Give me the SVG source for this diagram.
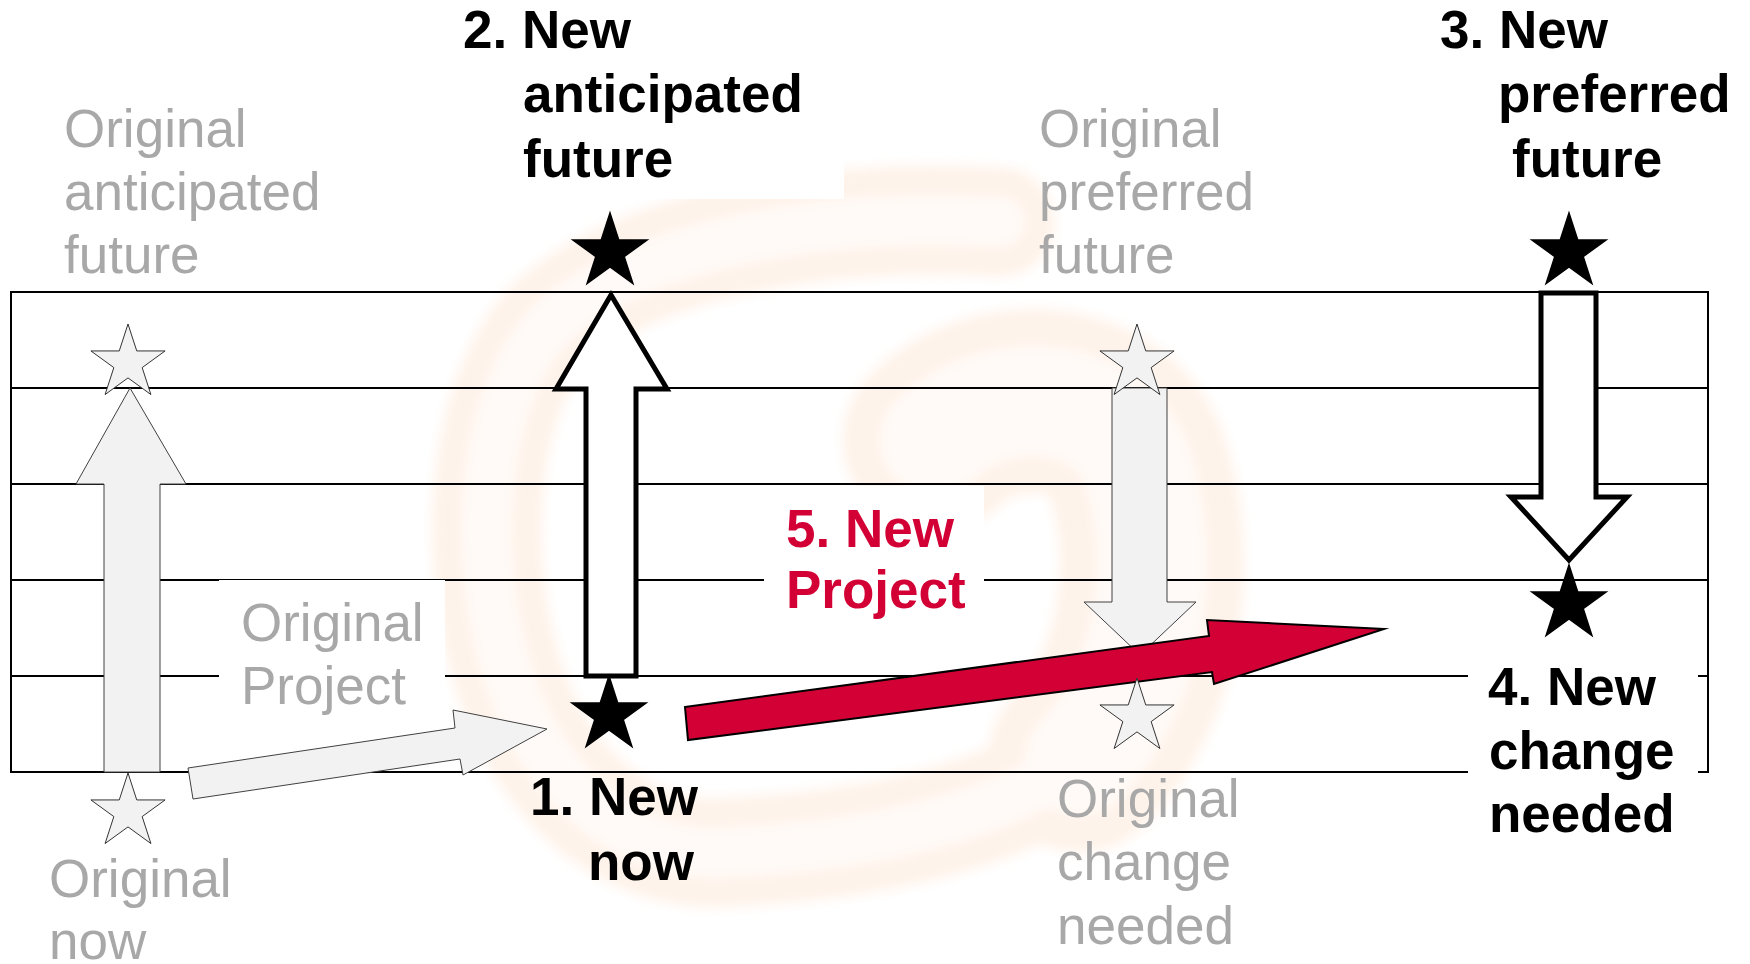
<svg xmlns="http://www.w3.org/2000/svg" xmlns:xlink="http://www.w3.org/1999/xlink" width="1750" height="964" viewBox="0 0 1750 964">
<style>
text { font-family: "Liberation Sans", Arial, sans-serif; font-size: 53px; }
.g { fill: #a8a8a8; }
.b { fill: #000000; font-weight: bold; }
.r { fill: #d20034; font-weight: bold; }
.grid line { stroke: #000000; stroke-width: 2; }
.box { fill: #ffffff; }
.ga { fill: #f2f2f2; stroke: #404040; stroke-width: 1; stroke-linejoin: miter; }
.ba { fill: #ffffff; stroke: #000000; stroke-width: 5; stroke-linejoin: miter; stroke-miterlimit: 10; }
.ra { fill: #d20034; stroke: #000000; stroke-width: 2; stroke-linejoin: miter; stroke-miterlimit: 10; }
.gs { fill: #f2f2f2; stroke: #333333; stroke-width: 1; }
.bs { fill: #000000; stroke: #000000; stroke-width: 1.5; }
.wm-o { stroke: #fef3ea; }
.wm-i { stroke: #fffaf7; }
</style>
<defs>
<path id="star" d="M0,-39 L8.76,-12.05 L37.09,-12.05 L14.17,4.6 L22.92,31.55 L0,14.9 L-22.92,31.55 L-14.17,4.6 L-37.09,-12.05 L-8.76,-12.05 Z"/>
<filter id="soft" x="-20%" y="-20%" width="140%" height="140%">
<feGaussianBlur stdDeviation="6"/>
</filter>
</defs>
<rect x="0" y="0" width="1750" height="964" fill="#ffffff"/>

<g id="watermark" fill="none" stroke-linecap="round" filter="url(#soft)">
<path class="wm-o" stroke-width="110" d="M1000,222 C820,212 640,245 555,320 C480,390 470,560 510,680 C550,800 640,860 730,852 C880,845 1000,815 1080,760"/>
<path class="wm-o" stroke-width="185" d="M935,440 C990,385 1100,385 1135,460 C1170,560 1150,690 1080,760"/>
<path class="wm-i" stroke-width="50" d="M1000,222 C820,212 640,245 555,320 C480,390 470,560 510,680 C550,800 640,860 730,852 C880,845 1000,815 1080,760"/>
<path class="wm-i" stroke-width="110" d="M935,440 C990,385 1100,385 1135,460 C1170,560 1150,690 1080,760"/>
</g>

<g id="grid" class="grid">
<line x1="11" y1="292" x2="1708" y2="292"/>
<line x1="11" y1="388" x2="1708" y2="388"/>
<line x1="11" y1="484" x2="1708" y2="484"/>
<line x1="11" y1="580" x2="1708" y2="580"/>
<line x1="11" y1="676" x2="1708" y2="676"/>
<line x1="11" y1="772" x2="1708" y2="772"/>
<line x1="11" y1="291" x2="11" y2="773"/>
<line x1="1708" y1="291" x2="1708" y2="773"/>
</g>

<g id="label-boxes">
<rect class="box" x="455" y="0" width="389" height="199"/>
<rect class="box" x="219" y="580" width="226" height="126"/>
<rect class="box" x="764" y="486" width="220" height="145"/>
<rect class="box" x="1468" y="584" width="230" height="270"/>
</g>

<g id="connectors">
<polygon id="arrow-orig-up" class="ga" points="104,772 104,484 76,484 130,388 186,484 160,484 160,772"/>
<polygon id="arrow-orig-project" class="ga" points="188,768 455,728 453,710 547,729 463,775 460,759 193,799"/>
<polygon id="arrow-orig-down" class="ga" points="1112,388 1167,388 1167,602 1196,602 1140,655 1084,602 1112,602"/>
<polygon id="arrow-new-up" class="ba" points="586,676 586,389 556,389 611,295 667,389 636,389 636,676"/>
<polygon id="arrow-new-down" class="ba" points="1541,293 1596,293 1596,497 1627,497 1569,560 1511,497 1541,497"/>
<polygon id="arrow-new-project" class="ra" points="685,707 1209,636 1207,620 1384,629 1214,684 1212,672 688,740"/>
</g>

<g id="node-original-anticipated-future">
<use xlink:href="#star" href="#star" class="gs" x="128" y="363"/>
<text class="g" x="64" y="147">Original</text>
<text class="g" x="64" y="210">anticipated</text>
<text class="g" x="64" y="273">future</text>
</g>

<g id="node-original-now">
<use xlink:href="#star" href="#star" class="gs" x="128" y="812"/>
<text class="g" x="49" y="897">Original</text>
<text class="g" x="49" y="959">now</text>
</g>

<g id="node-original-project">
<text class="g" x="241" y="641">Original</text>
<text class="g" x="241" y="704">Project</text>
</g>

<g id="node-new-anticipated-future">
<use xlink:href="#star" href="#star" class="bs" x="610" y="252"/>
<text class="b" x="463" y="48">2. New</text>
<text class="b" x="523" y="112">anticipated</text>
<text class="b" x="523" y="177">future</text>
</g>

<g id="node-new-now">
<use xlink:href="#star" href="#star" class="bs" x="609" y="715"/>
<text class="b" x="530" y="815">1. New</text>
<text class="b" x="588" y="880">now</text>
</g>

<g id="node-original-preferred-future">
<use xlink:href="#star" href="#star" class="gs" x="1137" y="363"/>
<text class="g" x="1039" y="147">Original</text>
<text class="g" x="1039" y="210">preferred</text>
<text class="g" x="1039" y="273">future</text>
</g>

<g id="node-original-change-needed">
<use xlink:href="#star" href="#star" class="gs" x="1137" y="717"/>
<text class="g" x="1057" y="817">Original</text>
<text class="g" x="1057" y="880">change</text>
<text class="g" x="1057" y="944">needed</text>
</g>

<g id="node-new-preferred-future">
<use xlink:href="#star" href="#star" class="bs" x="1569" y="252"/>
<text class="b" x="1440" y="48">3. New</text>
<text class="b" x="1498" y="112">preferred</text>
<text class="b" x="1512" y="177">future</text>
</g>

<g id="node-new-change-needed">
<use xlink:href="#star" href="#star" class="bs" x="1569" y="604"/>
<text class="b" x="1488" y="705">4. New</text>
<text class="b" x="1489" y="769">change</text>
<text class="b" x="1489" y="832">needed</text>
</g>

<g id="node-new-project">
<text class="r" x="786" y="547">5. New</text>
<text class="r" x="786" y="608">Project</text>
</g>
</svg>
